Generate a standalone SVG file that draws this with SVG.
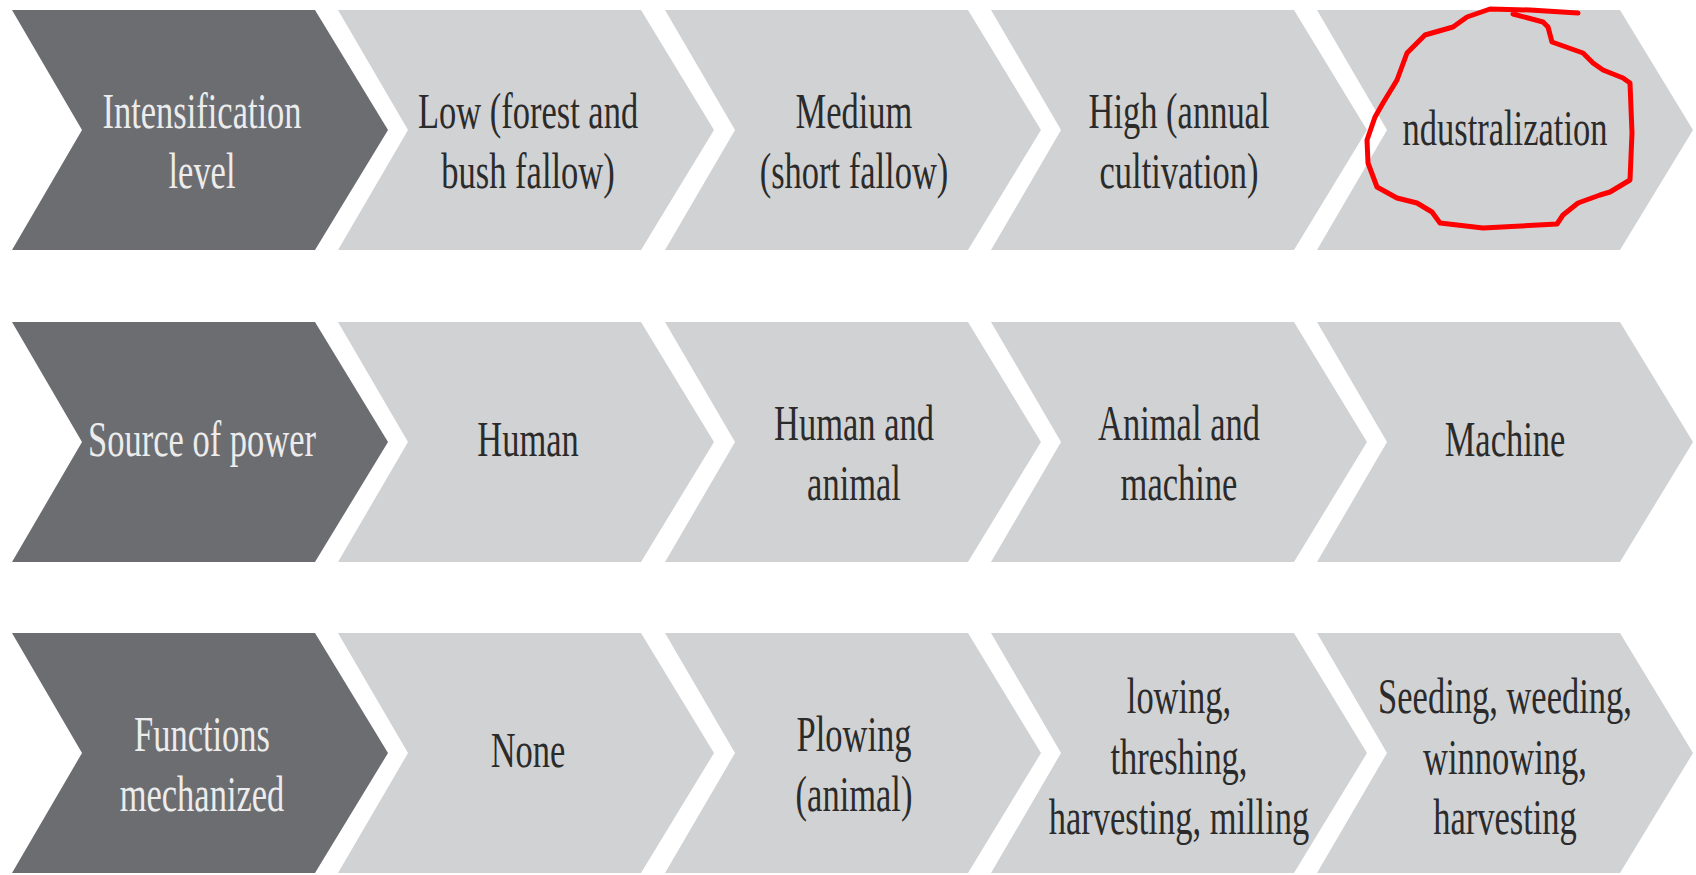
<svg xmlns="http://www.w3.org/2000/svg" xmlns:xlink="http://www.w3.org/1999/xlink" width="1696" height="875" viewBox="0 0 1696 875">
  <defs>
    <!-- one chevron step: flat top/bottom, notched left, pointed right -->
    <path id="chev" d="M0 0 H303 L376 120 L303 240 H0 L70 120 Z"/>
    <style>
      .dark { fill: #6c6d71; }
      .light { fill: #d1d2d4; }
      text { font-family: "Liberation Serif", "DejaVu Serif", serif; font-size: 50px; text-anchor: middle; }
      .hd { fill: #ececec; }
      .tx { fill: #2b2b2b; }
      .mark { fill: none; stroke: #ff0000; stroke-width: 5; stroke-linecap: round; stroke-linejoin: round; }
    </style>
  </defs>

  <rect width="1696" height="875" fill="#ffffff"/>

  <!-- Row 1: intensification level -->
  <g id="row1">
    <g id="r1c0">
      <use href="#chev" x="12" y="10" class="dark"/>
      <text class="hd" transform="translate(202 0) scale(0.69 1)"><tspan x="0" y="128">Intensification</tspan><tspan x="0" y="188">level</tspan></text>
    </g>
    <g id="r1c1">
      <use href="#chev" x="338" y="10" class="light"/>
      <text class="tx" transform="translate(528 0) scale(0.69 1)"><tspan x="0" y="128">Low (forest and</tspan><tspan x="0" y="188">bush fallow)</tspan></text>
    </g>
    <g id="r1c2">
      <use href="#chev" x="665" y="10" class="light"/>
      <text class="tx" transform="translate(854 0) scale(0.69 1)"><tspan x="0" y="128">Medium</tspan><tspan x="0" y="188">(short fallow)</tspan></text>
    </g>
    <g id="r1c3">
      <use href="#chev" x="991" y="10" class="light"/>
      <text class="tx" transform="translate(1179 0) scale(0.69 1)"><tspan x="0" y="128">High (annual</tspan><tspan x="0" y="188">cultivation)</tspan></text>
    </g>
    <g id="r1c4">
      <use href="#chev" x="1317" y="10" class="light"/>
      <text class="tx" transform="translate(1505 0) scale(0.69 1)"><tspan x="0" y="145">ndustralization</tspan></text>
    </g>
  </g>

  <!-- Row 2: source of power -->
  <g id="row2">
    <g id="r2c0">
      <use href="#chev" x="12" y="322" class="dark"/>
      <text class="hd" transform="translate(202 0) scale(0.69 1)"><tspan x="0" y="456">Source of power</tspan></text>
    </g>
    <g id="r2c1">
      <use href="#chev" x="338" y="322" class="light"/>
      <text class="tx" transform="translate(528 0) scale(0.69 1)"><tspan x="0" y="456">Human</tspan></text>
    </g>
    <g id="r2c2">
      <use href="#chev" x="665" y="322" class="light"/>
      <text class="tx" transform="translate(854 0) scale(0.69 1)"><tspan x="0" y="440">Human and</tspan><tspan x="0" y="500">animal</tspan></text>
    </g>
    <g id="r2c3">
      <use href="#chev" x="991" y="322" class="light"/>
      <text class="tx" transform="translate(1179 0) scale(0.69 1)"><tspan x="0" y="440">Animal and</tspan><tspan x="0" y="500">machine</tspan></text>
    </g>
    <g id="r2c4">
      <use href="#chev" x="1317" y="322" class="light"/>
      <text class="tx" transform="translate(1505 0) scale(0.69 1)"><tspan x="0" y="456">Machine</tspan></text>
    </g>
  </g>

  <!-- Row 3: functions mechanized -->
  <g id="row3">
    <g id="r3c0">
      <use href="#chev" x="12" y="633" class="dark"/>
      <text class="hd" transform="translate(202 0) scale(0.69 1)"><tspan x="0" y="751">Functions</tspan><tspan x="0" y="811">mechanized</tspan></text>
    </g>
    <g id="r3c1">
      <use href="#chev" x="338" y="633" class="light"/>
      <text class="tx" transform="translate(528 0) scale(0.69 1)"><tspan x="0" y="767">None</tspan></text>
    </g>
    <g id="r3c2">
      <use href="#chev" x="665" y="633" class="light"/>
      <text class="tx" transform="translate(854 0) scale(0.69 1)"><tspan x="0" y="751">Plowing</tspan><tspan x="0" y="811">(animal)</tspan></text>
    </g>
    <g id="r3c3">
      <use href="#chev" x="991" y="633" class="light"/>
      <text class="tx" transform="translate(1179 0) scale(0.69 1)"><tspan x="0" y="713">lowing,</tspan><tspan x="0" y="774">threshing,</tspan><tspan x="0" y="834">harvesting, milling</tspan></text>
    </g>
    <g id="r3c4">
      <use href="#chev" x="1317" y="633" class="light"/>
      <text class="tx" transform="translate(1505 0) scale(0.69 1)"><tspan x="0" y="713">Seeding, weeding,</tspan><tspan x="0" y="774">winnowing,</tspan><tspan x="0" y="834">harvesting</tspan></text>
    </g>
  </g>

  <!-- connectors: the chevron steps carry the flow, no separate lines -->
  <g id="connectors"/>

  <!-- hand-drawn red loop around the last step of row 1 -->
  <g id="annotation">
    <path class="mark" d="M1578 13 L1530 10 L1490 9 L1467 17 L1453 27 L1425 35 L1407 53 L1397 80 L1383 103 L1375 117 L1367 140 L1368 163 L1377 187 L1397 198 L1417 203 L1432 212 L1440 223 L1483 228 L1557 224 L1563 215 L1578 203 L1600 195 L1610 192 L1630 180 L1632 133 L1630 83 L1623 78 L1603 70 L1593 63 L1583 53 L1552 42 L1548 27 L1543 22 L1513 14"/>
  </g>
</svg>
